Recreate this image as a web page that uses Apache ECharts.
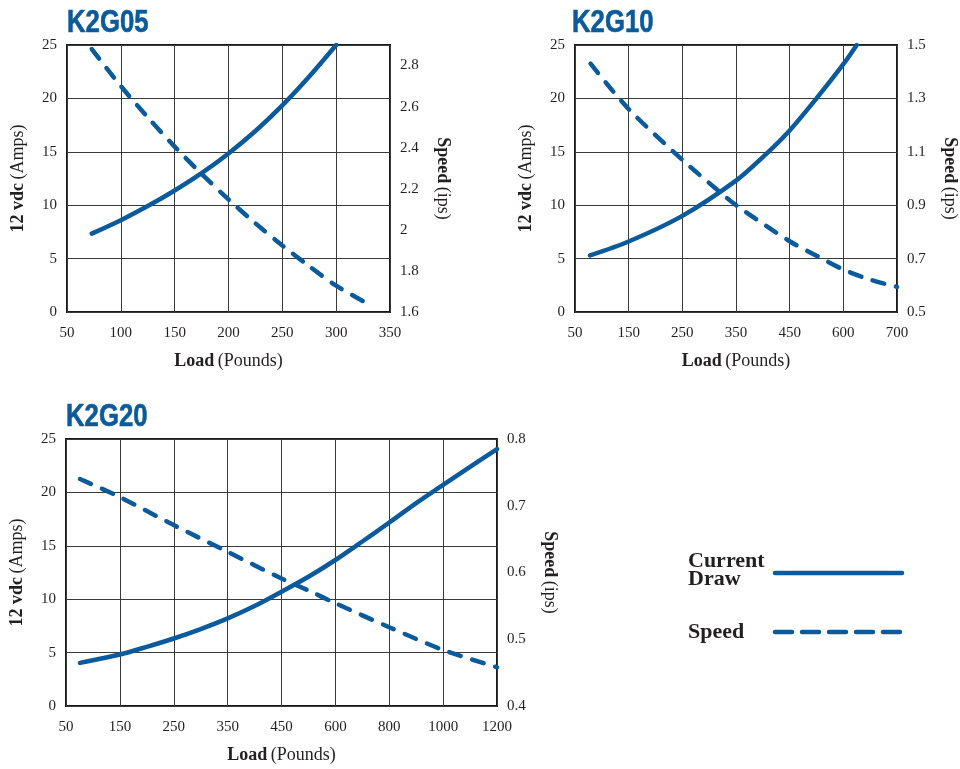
<!DOCTYPE html>
<html><head><meta charset="utf-8">
<script src="https://cdn.jsdelivr.net/npm/echarts@6/dist/echarts.min.js"></script>
<style>html,body{margin:0;padding:0;background:#fff}#c{width:960px;height:769px}</style>
</head><body><div id="c"></div>
<script>
// ---------- data ----------
const titles = ['K2G05', 'K2G10', 'K2G20'];

const xTicks05 = [50, 100, 150, 200, 250, 300, 350];
const xTicks10 = [50, 150, 250, 350, 450, 600, 700];
const xTicks20 = [50, 150, 250, 350, 450, 600, 800, 1000, 1200];

const ampTicks = [0, 5, 10, 15, 20, 25];

const speedTicks05 = [1.6, 1.8, 2, 2.2, 2.4, 2.6, 2.8];
const speedRange05 = [1.6, 2.9];
const speedTicks10 = [0.5, 0.7, 0.9, 1.1, 1.3, 1.5];
const speedRange10 = [0.5, 1.5];
const speedTicks20 = [0.4, 0.5, 0.6, 0.7, 0.8];
const speedRange20 = [0.4, 0.8];

// K2G05
const k2g05CurLoad = [73, 100, 125, 150, 175, 200, 225, 250, 275, 300];
const k2g05CurAmps = [7.34, 8.6, 9.92, 11.38, 13.0, 14.85, 16.95, 19.35, 22.05, 25.0];
const k2g05SpdLoad = [73, 100, 125, 150, 175, 200, 225, 250, 275, 300, 326];
const k2g05Speed   = [2.88, 2.70, 2.548, 2.405, 2.272, 2.148, 2.032, 1.924, 1.823, 1.728, 1.65];

// K2G10
const k2g10CurLoad = [78, 150, 250, 350, 400, 450, 525, 600, 625];
const k2g10CurAmps = [5.3, 6.6, 9.0, 12.3, 14.5, 17.0, 20.0, 23.2, 25.0];
const k2g10SpdLoad = [79, 150, 250, 316, 350, 450, 525, 600, 650, 700];
const k2g10Speed   = [1.43, 1.26, 1.07, 0.956, 0.90, 0.765, 0.711, 0.659, 0.621, 0.594];

// K2G20
const k2g20CurLoad = [76, 150, 200, 250, 300, 350, 400, 450, 525, 600, 700, 800, 900, 1000, 1100, 1200];
const k2g20CurAmps = [4.04, 4.82, 5.54, 6.32, 7.2, 8.2, 9.36, 10.7, 12.1, 13.67, 15.4, 17.18, 19.0, 20.7, 22.4, 24.06];
const k2g20SpdLoad = [76, 150, 250, 350, 450, 525, 600, 800, 1000, 1200];
const k2g20Speed   = [0.740, 0.713, 0.671, 0.631, 0.591, 0.573, 0.554, 0.518, 0.484, 0.458];

const legendNames = ['Current\nDraw', 'Speed'];

// ---------- helpers ----------
const BLUE = '#0a5a9c';
const INK = '#231f20';
const SERIF = "'Liberation Serif','Times New Roman',serif";

// map a load value to its position on the (non-uniform) tick scale
function toPos(load, ticks) {
  let i = 0;
  while (i < ticks.length - 2 && load > ticks[i + 1]) i++;
  return i + (load - ticks[i]) / (ticks[i + 1] - ticks[i]);
}
function pts(loads, vals, ticks) {
  return loads.map((l, k) => [toPos(l, ticks), vals[k]]);
}
function tickFmt(list) {
  return v => {
    const t = list.find(t => Math.abs(t - v) < 1e-6);
    return t === undefined ? '' : String(t);
  };
}

const panels = [
  { ticks: xTicks05, sTicks: speedTicks05, sRange: speedRange05,
    cur: pts(k2g05CurLoad, k2g05CurAmps, xTicks05), spd: pts(k2g05SpdLoad, k2g05Speed, xTicks05),
    grid: { left: 67, top: 45, width: 323, height: 267 }, title: [67, 8] },
  { ticks: xTicks10, sTicks: speedTicks10, sRange: speedRange10,
    cur: pts(k2g10CurLoad, k2g10CurAmps, xTicks10), spd: pts(k2g10SpdLoad, k2g10Speed, xTicks10),
    grid: { left: 575, top: 45, width: 323, height: 267 }, title: [572, 8] },
  { ticks: xTicks20, sTicks: speedTicks20, sRange: speedRange20,
    cur: pts(k2g20CurLoad, k2g20CurAmps, xTicks20), spd: pts(k2g20SpdLoad, k2g20Speed, xTicks20),
    grid: { left: 66, top: 439, width: 431, height: 267 }, title: [66, 402] }
];

const nameRich = {
  b: { fontFamily: SERIF, fontWeight: 'bold', fontSize: 18, color: INK },
  n: { fontFamily: SERIF, fontSize: 18, color: INK }
};
const labelStyle = { fontFamily: SERIF, fontSize: 15, color: INK };

const option = {
  animation: false,
  backgroundColor: '#fff',
  grid: [], xAxis: [], yAxis: [], series: [],
  graphic: []
};

panels.forEach((p, i) => {
  option.graphic.push({
    type: 'text', x: p.title[0], y: p.title[1], scaleX: 0.83,
    style: { text: titles[i], font: "bold 31px 'Liberation Sans', Arial, sans-serif",
             fill: BLUE, stroke: BLUE, lineWidth: 0.6, textVerticalAlign: 'top' }
  });
  option.grid.push(Object.assign({ show: true, borderColor: '#1a1a1a', borderWidth: 2, backgroundColor: 'transparent' }, p.grid));
  option.xAxis.push({
    gridIndex: i, type: 'value', min: 0, max: p.ticks.length - 1, interval: 1,
    axisLine: { show: false }, axisTick: { show: false },
    splitLine: { show: true, lineStyle: { color: '#3a3a3a', width: 1 } },
    axisLabel: Object.assign({ margin: 14, formatter: v => String(p.ticks[Math.round(v)]) }, labelStyle),
    name: '{b|Load} {n|(Pounds)}', nameLocation: 'middle', nameGap: 40,
    nameTextStyle: { rich: nameRich }
  });
  option.yAxis.push({
    gridIndex: i, type: 'value', min: ampTicks[0], max: ampTicks[ampTicks.length - 1],
    interval: ampTicks[1] - ampTicks[0], position: 'left',
    axisLine: { show: false }, axisTick: { show: false },
    splitLine: { show: true, lineStyle: { color: '#3a3a3a', width: 1 } },
    axisLabel: Object.assign({ margin: 10, formatter: tickFmt(ampTicks) }, labelStyle),
    name: '{b|12 vdc} {n|(Amps)}', nameLocation: 'middle', nameRotate: 90, nameGap: 40,
    nameTextStyle: { rich: nameRich }
  });
  option.yAxis.push({
    gridIndex: i, type: 'value', min: p.sRange[0], max: p.sRange[1],
    interval: +(p.sTicks[1] - p.sTicks[0]).toFixed(6), position: 'right',
    axisLine: { show: false }, axisTick: { show: false }, splitLine: { show: false },
    axisLabel: Object.assign({ margin: 10, formatter: tickFmt(p.sTicks) }, labelStyle),
    name: '{b|Speed} {n|(ips)}', nameLocation: 'middle', nameRotate: -90, nameGap: 44,
    nameTextStyle: { rich: nameRich }
  });
  option.series.push({
    name: 'Current Draw', type: 'line', xAxisIndex: i, yAxisIndex: 2 * i,
    data: p.cur, smooth: 0.3, showSymbol: false, symbol: 'none',
    lineStyle: { color: BLUE, width: 4.5, cap: 'round' }
  });
  option.series.push({
    name: 'Speed', type: 'line', xAxisIndex: i, yAxisIndex: 2 * i + 1,
    data: p.spd, smooth: 0.3, showSymbol: false, symbol: 'none',
    lineStyle: { color: BLUE, width: 4.5, type: [12, 12], cap: 'round' }
  });
});

// legend (custom layout: text on the left, line sample on the right)
option.graphic.push(
  { type: 'text', x: 688, y: 552,
    style: { text: legendNames[0], font: "bold 22px " + SERIF, lineHeight: 18, fill: INK, textVerticalAlign: 'top' } },
  { type: 'line', shape: { x1: 775, y1: 573, x2: 902, y2: 573 },
    style: { stroke: BLUE, lineWidth: 4.5, lineCap: 'round' } },
  { type: 'text', x: 688, y: 621,
    style: { text: legendNames[1], font: "bold 22px " + SERIF, fill: INK, textVerticalAlign: 'top' } },
  { type: 'line', shape: { x1: 775, y1: 632, x2: 900, y2: 632 },
    style: { stroke: BLUE, lineWidth: 4.5, lineCap: 'round', lineDash: [17, 10] } }
);

const chart = echarts.init(document.getElementById('c'), null, { renderer: 'canvas' });
chart.setOption(option);
</script>
</body></html>
